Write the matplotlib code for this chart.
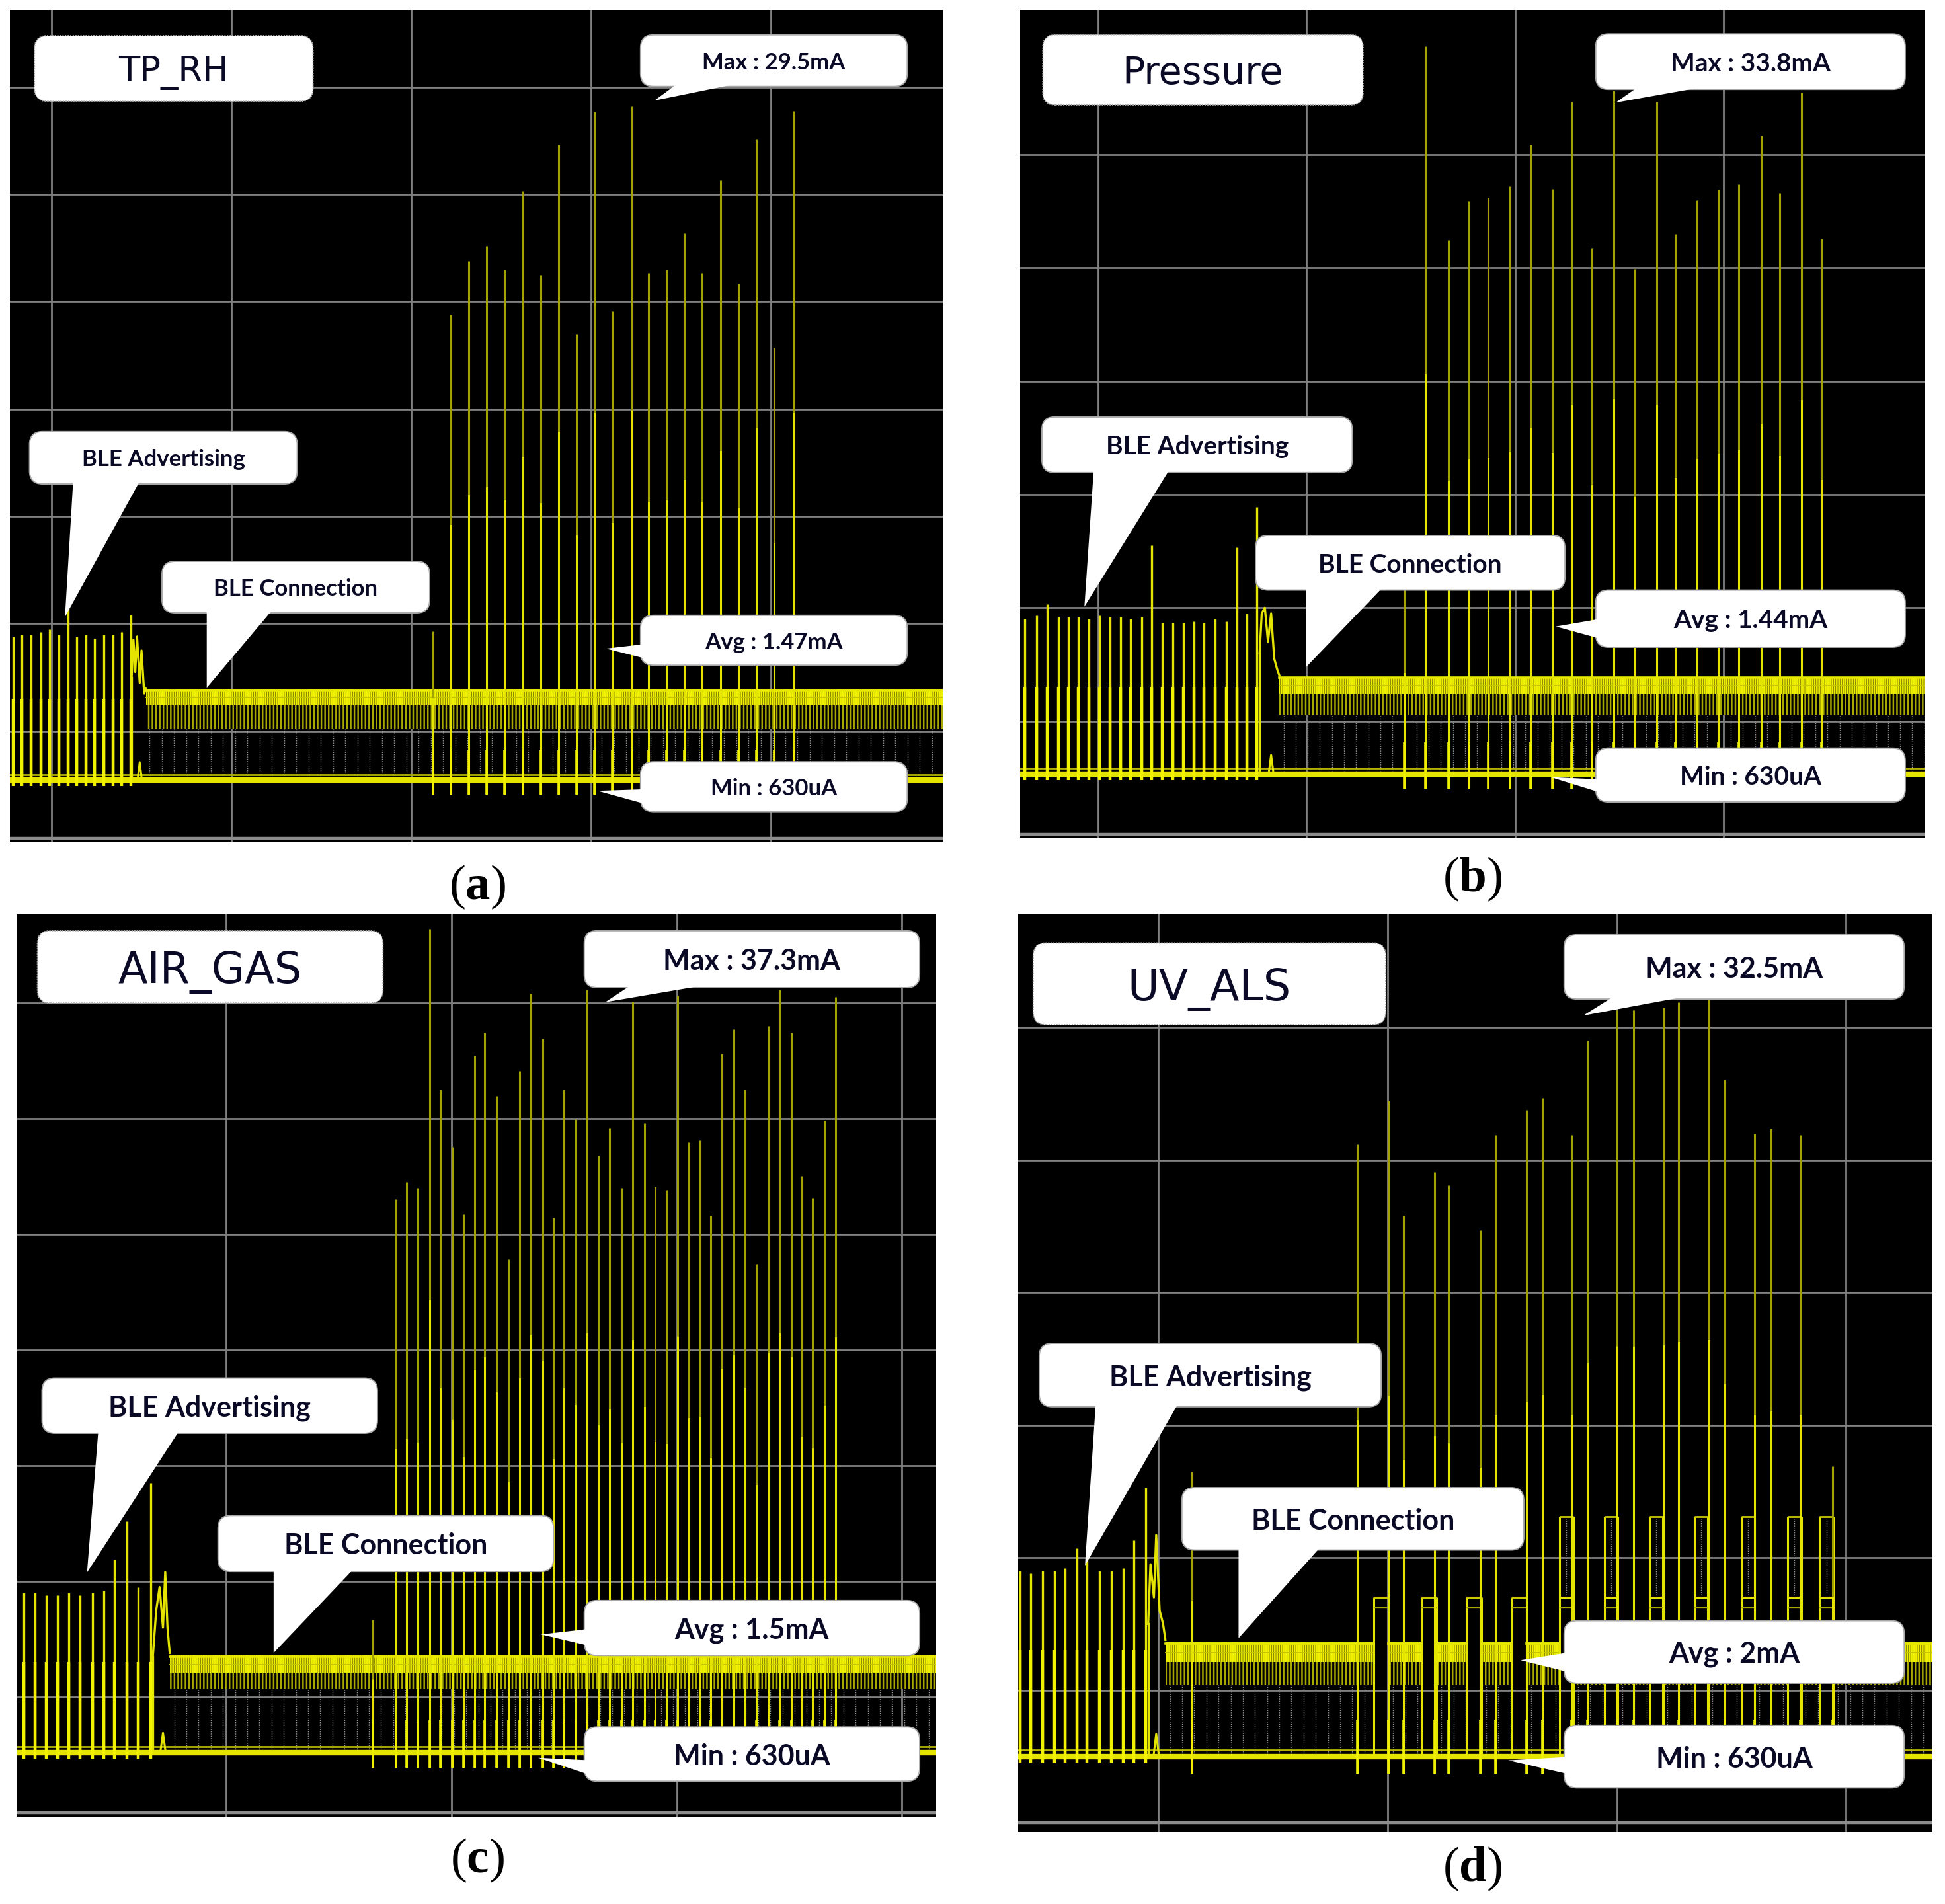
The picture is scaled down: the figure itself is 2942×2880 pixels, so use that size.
import numpy as np
import matplotlib
matplotlib.use('Agg')
import matplotlib.pyplot as plt
from matplotlib.patches import FancyBboxPatch, Polygon

plt.rcParams['mathtext.fontset'] = 'custom'
plt.rcParams['mathtext.rm'] = 'Liberation Serif'
plt.rcParams['mathtext.bf'] = 'Liberation Serif:bold'
plt.rcParams['hatch.linewidth'] = 1.8

# ---------------- data, in scope divisions ----------------
# (a) TP_RH
A_ADV_X = [-0.215, -0.165, -0.115, -0.06, -0.01, 0.04, 0.09, 0.14, 0.19, 0.24, 0.29, 0.34, 0.39, 0.44]
A_ADV_TOP = [1.88, 1.90, 1.90, 1.92, 1.95, 1.90, 2.25, 1.88, 1.90, 1.86, 1.90, 1.90, 1.92, 2.08]
A_HUMP_X = [0.445, 0.455, 0.465, 0.475, 0.49, 0.50, 0.515, 0.525]
A_HUMP_Y = [1.50, 1.85, 1.55, 1.88, 1.45, 1.75, 1.35, 1.40]
A_SPIKE_X = [2.12, 2.22, 2.32, 2.42, 2.52, 2.62, 2.72, 2.82, 2.92, 3.02, 3.12,
             3.23, 3.32, 3.42, 3.52, 3.62, 3.72, 3.82, 3.92, 4.02, 4.13]
A_SPIKE_TOP = [1.93, 4.88, 5.38, 5.52, 5.30, 6.03, 5.25, 6.46, 4.70, 6.77, 4.91,
               6.82, 5.27, 5.30, 5.64, 5.27, 6.13, 5.17, 6.51, 4.57, 6.78]
A_LEVELS = [0.54, 1.02, 1.41]      # min line, band bottom, band top
A_BAND_START = 0.525
A_TEXT = ['TP_RH', 'Max : 29.5mA', 'BLE Advertising', 'BLE Connection', 'Avg : 1.47mA', 'Min : 630uA']

# (b) Pressure
B_ADV_X = [-0.351, -0.294, -0.243, -0.191, -0.143, -0.094, -0.043, 0.006, 0.057, 0.108, 0.157, 0.208,
           0.257, 0.308, 0.357, 0.408, 0.46, 0.508, 0.562, 0.614, 0.665, 0.714, 0.762]
B_ADV_TOP = [1.90, 1.93, 2.03, 1.92, 1.92, 1.92, 1.90, 1.93, 1.92, 1.92, 1.90, 1.92,
             2.55, 1.87, 1.87, 1.87, 1.88, 1.87, 1.90, 1.88, 2.53, 1.95, 2.89]
B_HUMP_X = [0.775, 0.785, 0.80, 0.815, 0.83, 0.845, 0.86, 0.87]
B_HUMP_Y = [1.60, 1.95, 2.00, 1.70, 1.95, 1.55, 1.45, 1.40]
B_SPIKE_X = [1.47, 1.57, 1.68, 1.78, 1.87, 1.975, 2.075, 2.18, 2.27, 2.37, 2.475, 2.575,
             2.68, 2.77, 2.875, 2.975, 3.075, 3.18, 3.27, 3.375, 3.47]
B_SPIKE_TOP = [2.16, 6.96, 5.25, 5.59, 5.62, 5.72, 6.09, 5.70, 6.47, 5.18, 6.57, 4.99,
               6.47, 5.30, 5.60, 5.69, 5.74, 6.17, 5.66, 6.55, 5.26]
B_LEVELS = [0.53, 1.05, 1.41]
B_BAND_START = 0.87
B_TEXT = ['Pressure', 'Max : 33.8mA', 'BLE Advertising', 'BLE Connection', 'Avg : 1.44mA', 'Min : 630uA']

# (c) AIR_GAS
C_ADV_X = [-0.897, -0.848, -0.799, -0.747, -0.698, -0.647, -0.592, -0.543, -0.495, -0.44, -0.389, -0.334]
C_ADV_TOP = [1.90, 1.90, 1.88, 1.88, 1.90, 1.88, 1.90, 1.92, 2.19, 2.52, 1.95, 2.85]
C_HUMP_X = [-0.325, -0.31, -0.295, -0.28, -0.27, -0.26, -0.25]
C_HUMP_Y = [1.35, 1.75, 1.95, 1.60, 2.08, 1.60, 1.38]
C_SPIKE_X = [0.652, 0.755, 0.802, 0.851, 0.905, 0.951, 1.005, 1.054, 1.103, 1.149, 1.201, 1.253,
             1.304, 1.353, 1.405, 1.454, 1.50, 1.552, 1.603, 1.652, 1.701, 1.755, 1.804,
             1.859, 1.905, 1.954, 2.005, 2.054, 2.103, 2.152, 2.201, 2.255, 2.304, 2.353,
             2.408, 2.457, 2.508, 2.557, 2.603, 2.655, 2.707]
C_SPIKE_TOP = [1.67, 5.30, 5.45, 5.40, 7.64, 6.25, 5.75, 5.17, 6.54, 6.74, 6.19, 4.78,
               6.41, 7.08, 6.69, 5.14, 6.25, 5.99, 7.11, 5.68, 5.92, 5.40, 7.01,
               5.96, 5.41, 5.38, 7.06, 5.79, 5.81, 5.16, 6.56, 6.77, 6.25, 4.74,
               6.80, 7.11, 6.74, 5.50, 5.31, 5.98, 7.05]
C_LEVELS = [0.52, 1.07, 1.38]
C_BAND_START = -0.25
C_TEXT = ['AIR_GAS', 'Max : 37.3mA', 'BLE Advertising', 'BLE Connection', 'Avg : 1.5mA', 'Min : 630uA']

# (d) UV_ALS
D_ADV_X = [-0.604, -0.557, -0.505, -0.455, -0.408, -0.356, -0.311, -0.259, -0.207, -0.154, -0.107, -0.055]
D_ADV_TOP = [1.90, 1.88, 1.90, 1.90, 1.92, 2.07, 1.99, 1.90, 1.90, 1.92, 2.13, 2.53]
D_HUMP_X = [-0.045, -0.035, -0.02, -0.01, 0.005, 0.02, 0.03]
D_HUMP_Y = [1.50, 1.95, 1.70, 2.17, 1.60, 1.50, 1.38]
D_SPIKE_X = [0.146, 0.866, 1.004, 1.07, 1.206, 1.266, 1.405, 1.47, 1.606, 1.674, 1.802, 1.87,
             2.001, 2.072, 2.205, 2.27, 2.401, 2.472, 2.60, 2.673, 2.801, 2.94]
D_SPIKE_TOP = [2.65, 5.12, 5.45, 4.58, 4.91, 4.81, 4.47, 5.19, 5.38, 5.47, 5.19, 5.90,
               6.13, 6.13, 6.15, 6.19, 6.22, 5.61, 5.20, 5.24, 5.19, 2.69]
D_BLOCK_START = [0.939, 1.148, 1.344, 1.541, 1.75, 1.946, 2.142, 2.339, 2.543, 2.744, 2.883]
D_BLOCK_END = [1.004, 1.214, 1.41, 1.606, 1.81, 2.004, 2.20, 2.396, 2.60, 2.804, 2.945]
D_BLOCK_TOP = [1.70, 1.70, 1.70, 1.70, 2.31, 2.31, 2.31, 2.31, 2.31, 2.31, 2.31]
D_LEVELS = [0.50, 1.04, 1.38]
D_BAND_START = 0.03
D_TEXT = ['UV_ALS', 'Max : 32.5mA', 'BLE Advertising', 'BLE Connection', 'Avg : 2mA', 'Min : 630uA']

# ---------------- styles ----------------
BRIGHT = '#e4e400'
DIM = '#a2a200'
GRIDC = '#808080'
INK = '#0a0a26'

LAYOUT = {
    'a': dict(rect=[0.0051, 0.5580, 0.4796, 0.4368], xlim=(-0.232, 4.957), ylim=(-0.03, 7.72),
              xg=range(0, 5), yg=range(0, 8), asp=1.12, fs_t=38, fs=25, dot=0.068, lab=(0.2455, 0.534),
              boxes=[(0.0263, 0.325, 0.890, 0.969), (0.676, 0.962, 0.908, 0.970),
                     (0.021, 0.308, 0.430, 0.493), (0.163, 0.450, 0.275, 0.337),
                     (0.676, 0.962, 0.212, 0.272), (0.676, 0.962, 0.036, 0.096)],
              tails=[None, [(0.720, 0.915), (0.796, 0.915), (0.691, 0.891)],
                     [(0.068, 0.437), (0.141, 0.437), (0.059, 0.270)],
                     [(0.211, 0.282), (0.284, 0.282), (0.211, 0.185)],
                     [(0.685, 0.238), (0.685, 0.219), (0.639, 0.232)],
                     [(0.685, 0.063), (0.685, 0.044), (0.630, 0.061)]]),
    'b': dict(rect=[0.5245, 0.5601, 0.4653, 0.4347], xlim=(-0.374, 3.968), ylim=(-0.03, 7.28),
              xg=range(0, 4), yg=range(0, 7), asp=1.09, fs_t=41, fs=28, dot=0.058, lab=(0.757, 0.538),
              boxes=[(0.025, 0.379, 0.885, 0.970), (0.636, 0.978, 0.904, 0.971),
                     (0.024, 0.367, 0.441, 0.508), (0.260, 0.602, 0.299, 0.365),
                     (0.636, 0.978, 0.230, 0.299), (0.636, 0.978, 0.043, 0.108)],
              tails=[None, [(0.688, 0.911), (0.776, 0.911), (0.658, 0.888)],
                     [(0.0815, 0.448), (0.167, 0.448), (0.071, 0.279)],
                     [(0.316, 0.306), (0.404, 0.306), (0.316, 0.206)],
                     [(0.645, 0.265), (0.645, 0.239), (0.592, 0.255)],
                     [(0.645, 0.070), (0.645, 0.053), (0.586, 0.073)]]),
    'c': dict(rect=[0.00884, 0.04549, 0.4725, 0.4747], xlim=(-0.927, 3.152), ylim=(-0.04, 7.77),
              xg=range(0, 4), yg=range(0, 8), asp=1.02, fs_t=47, fs=31, dot=0.054, lab=(0.2455, 0.0229),
              boxes=[(0.022, 0.398, 0.901, 0.981), (0.617, 0.982, 0.918, 0.981),
                     (0.027, 0.392, 0.425, 0.486), (0.2185, 0.5836, 0.272, 0.334),
                     (0.617, 0.982, 0.179, 0.240), (0.617, 0.982, 0.040, 0.100)],
              tails=[None, [(0.674, 0.925), (0.773, 0.925), (0.640, 0.902)],
                     [(0.0886, 0.432), (0.179, 0.432), (0.076, 0.271)],
                     [(0.279, 0.279), (0.370, 0.279), (0.279, 0.182)],
                     [(0.626, 0.209), (0.626, 0.189), (0.570, 0.2024)],
                     [(0.626, 0.063), (0.626, 0.046), (0.567, 0.066)]]),
    'd': dict(rect=[0.5235, 0.03785, 0.4701, 0.4823], xlim=(-0.612, 3.377), ylim=(-0.07, 6.86),
              xg=range(0, 4), yg=range(0, 7), asp=1.0, fs_t=47, fs=31, dot=0.053, lab=(0.757, 0.0184),
              boxes=[(0.0164, 0.402, 0.879, 0.968), (0.597, 0.969, 0.907, 0.977),
                     (0.023, 0.397, 0.463, 0.532), (0.179, 0.553, 0.307, 0.375),
                     (0.597, 0.969, 0.162, 0.230), (0.597, 0.969, 0.048, 0.116)],
              tails=[None, [(0.658, 0.914), (0.753, 0.914), (0.618, 0.889)],
                     [(0.085, 0.470), (0.177, 0.470), (0.073, 0.290)],
                     [(0.241, 0.314), (0.334, 0.314), (0.241, 0.211)],
                     [(0.606, 0.196), (0.606, 0.173), (0.5495, 0.187)],
                     [(0.606, 0.082), (0.606, 0.062), (0.536, 0.078)]]),
}

PANELS = {
    'a': (A_ADV_X, A_ADV_TOP, A_HUMP_X, A_HUMP_Y, A_SPIKE_X, A_SPIKE_TOP, A_LEVELS, A_BAND_START, A_TEXT, None),
    'b': (B_ADV_X, B_ADV_TOP, B_HUMP_X, B_HUMP_Y, B_SPIKE_X, B_SPIKE_TOP, B_LEVELS, B_BAND_START, B_TEXT, None),
    'c': (C_ADV_X, C_ADV_TOP, C_HUMP_X, C_HUMP_Y, C_SPIKE_X, C_SPIKE_TOP, C_LEVELS, C_BAND_START, C_TEXT, None),
    'd': (D_ADV_X, D_ADV_TOP, D_HUMP_X, D_HUMP_Y, D_SPIKE_X, D_SPIKE_TOP, D_LEVELS, D_BAND_START, D_TEXT,
          (D_BLOCK_START, D_BLOCK_END, D_BLOCK_TOP)),
}


def bubble(ax, box, tail, label, size, asp, title=False):
    x0, x1, y0, y1 = box
    ax.add_patch(FancyBboxPatch((x0, y0), x1 - x0, y1 - y0,
                                boxstyle='round,pad=0,rounding_size=0.014', mutation_aspect=asp,
                                transform=ax.transAxes, fc='white', ec='#a8a8a8', lw=1.4,
                                ls=(0, (1, 1)) if title else '-', zorder=8, clip_on=False))
    if tail is not None:
        ax.add_patch(Polygon(tail, closed=True, transform=ax.transAxes,
                             fc='white', ec='none', zorder=9))
    if title:
        ax.text((x0 + x1) / 2, (y0 + y1) / 2, label, transform=ax.transAxes, ha='center',
                va='center_baseline', fontsize=size, color=INK, family='DejaVu Sans', zorder=10)
    else:
        ax.text((x0 + x1) / 2, (y0 + y1) / 2, label, transform=ax.transAxes, ha='center',
                va='center_baseline', fontsize=size, color=INK, family='Lato', fontweight='bold',
                zorder=10)


def draw_panel(fig, key):
    L = LAYOUT[key]
    adv_x, adv_top, hump_x, hump_y, sp_x, sp_top, levels, band_start, texts, blocks = PANELS[key]
    base, lo, hi = levels
    ax = fig.add_axes(L['rect'])
    ax.set_facecolor('black')
    ax.set_xlim(*L['xlim'])
    ax.set_ylim(*L['ylim'])
    ax.set_xticks(list(L['xg']))
    ax.set_yticks(list(L['yg']))
    ax.tick_params(length=0, labelbottom=False, labelleft=False)
    ax.grid(True, color=GRIDC, lw=2.0, zorder=0)
    ax.set_axisbelow(True)
    ax.axhline(0, color='#8c8c8c', lw=3.2, zorder=1)
    for s in ax.spines.values():
        s.set_visible(False)
    xmin, xmax = L['xlim']

    # connection-band segments (interrupted by the sensor blocks in d)
    if blocks is None:
        seg = [(band_start, xmax)]
    else:
        bs, be, bt = blocks
        starts = [band_start] + list(be)
        ends = list(bs) + [xmax]
        seg = [(s, e) for s, e in zip(starts, ends) if e > s]

    # dotted connection-event marks under the band
    for s, e in seg:
        xs = np.arange(s + 0.02, e, L['dot'])
        ax.vlines(xs, base, lo, colors='#9a9a9a', lw=1.0, linestyles=(0, (1, 1.5)), zorder=1.5)

    # noisy connection band
    for s, e in seg:
        ax.fill_between([s, e], lo, hi - 0.14, facecolor='black', edgecolor='#a8a800',
                        hatch='|||', lw=0, zorder=2)
        ax.fill_between([s, e], hi - 0.17, hi - 0.02, facecolor='#6e6e00', edgecolor='#f0f000',
                        hatch='|||||', lw=0, zorder=2.2)
        ax.plot([s, e], [hi - 0.03, hi - 0.03], color='#e8e800', lw=2.6, zorder=2.3)
        ax.plot([s, e], [hi - 0.10, hi - 0.10], color='#c4c400', lw=1.4, zorder=2.3)

    # minimum (sleep) current line
    ax.plot([xmin, xmax], [base, base], color=BRIGHT, lw=6.0, zorder=2.5, solid_capstyle='butt')
    ax.plot([xmin, xmax], [base + 0.05, base + 0.05], color='#b4b400', lw=2.0, zorder=2.6)

    # advertising bursts
    ax.vlines(adv_x, base, adv_top, colors=BRIGHT, lw=2.4, zorder=3)
    ax.vlines(adv_x, base - 0.05, 1.30, colors='#f2f200', lw=3.2, zorder=3.1)
    ax.plot(hump_x, hump_y, color=BRIGHT, lw=2.4, zorder=3)
    ax.plot([hump_x[0], hump_x[0]], [base, hump_y[0]], color=BRIGHT, lw=2.4, zorder=3)
    hx = hump_x[len(hump_x) // 2]
    ax.plot([hx - 0.012, hx, hx + 0.012], [base, base + 0.17, base], color=BRIGHT, lw=2.2, zorder=3)

    # sensor blocks (d)
    if blocks is not None:
        bs, be, bt = blocks
        ax.vlines(bs, base, bt, colors=BRIGHT, lw=2.2, zorder=3.2)
        ax.vlines(be, base, bt, colors=BRIGHT, lw=2.2, zorder=3.2)
        ax.hlines([1.70] * len(bs), bs, be, colors=BRIGHT, lw=2.2, zorder=3.2)
        ax.hlines([1.62] * len(bs), bs, be, colors='#a8a800', lw=1.6, zorder=3.2)
        ax.hlines(bt, bs, be, colors='#c8c800', lw=2.0, zorder=3.2)
        mids = [(s + e) / 2 for s, e in zip(bs, be)]
        ax.vlines(mids, 1.70, bt, colors='#9a9a9a', lw=1.0, linestyles=(0, (1, 1.5)), zorder=3.2)

    # data-transfer spikes
    sp_x = np.asarray(sp_x)
    sp_top = np.asarray(sp_top)
    mid = base + (sp_top - base) * 0.55
    ax.vlines(sp_x, mid, sp_top, colors=DIM, lw=2.2, zorder=3.5)
    ax.vlines(sp_x, base - 0.13, mid, colors=BRIGHT, lw=2.2, zorder=3.5)
    ax.vlines(sp_x, base - 0.13, base + 0.28, colors='#f0f000', lw=2.6, zorder=3.6)

    # call-outs
    for i, (box, tail, txt) in enumerate(zip(L['boxes'], L['tails'], texts)):
        bubble(ax, box, tail, txt, L['fs_t'] if i == 0 else L['fs'], L['asp'], title=(i == 0))

    fig.text(L['lab'][0], L['lab'][1], r'($\mathbf{%s}$)' % key, ha='center', va='center',
             fontsize=54, family='Liberation Serif', color='black')
    return ax


fig = plt.figure(figsize=(29.42, 28.80), dpi=100, facecolor='white')
for k in ['a', 'b', 'c', 'd']:
    draw_panel(fig, k)
fig.savefig('out.png', dpi=100, facecolor='white')
